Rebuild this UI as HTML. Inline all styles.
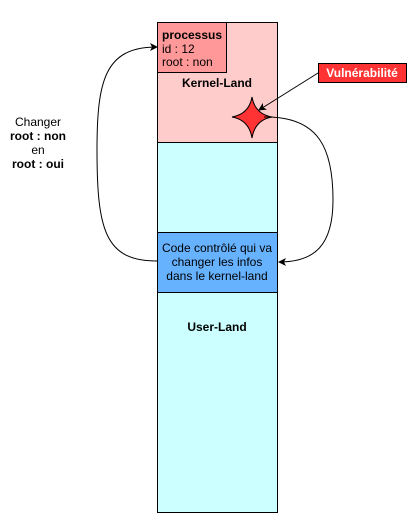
<!DOCTYPE html>
<html><head><meta charset="utf-8"><style>
body{margin:0;background:#fff;}
svg{display:block;font-family:"Liberation Sans",sans-serif;}
</style></head><body>
<svg width="416" height="532" viewBox="0 0 416 532" xmlns="http://www.w3.org/2000/svg">
<defs><marker id="a" markerWidth="8" markerHeight="8" refX="7" refY="4" orient="auto" markerUnits="userSpaceOnUse"><path d="M0,0 L8,4 L0,8 L2,4 Z" fill="#000"/></marker></defs>
<rect x="157.5" y="22.5" width="120" height="120" fill="#ffcccc" stroke="#000"/>
<rect x="157.5" y="142.5" width="120" height="370" fill="#ccffff" stroke="#000"/>
<rect x="157.5" y="22.5" width="69" height="50" fill="#ff9999" stroke="#000"/>
<rect x="157.5" y="232.5" width="120" height="60" fill="#66b2ff" stroke="#000"/>
<text x="162" y="39" font-size="12" font-weight="bold">processus</text>
<text x="162" y="53" font-size="12">id : 12</text>
<text x="162" y="66" font-size="12">root : non</text>
<text x="217" y="87" font-size="12" font-weight="bold" text-anchor="middle">Kernel-Land</text>
<text x="217" y="252" font-size="12" text-anchor="middle">Code contrôlé qui va</text>
<text x="217" y="266" font-size="12" text-anchor="middle">changer les infos</text>
<text x="217" y="280" font-size="12" text-anchor="middle">dans le kernel-land</text>
<text x="217" y="331" font-size="12" font-weight="bold" text-anchor="middle">User-Land</text>
<path d="M252,97 Q255,114 272,117 Q255,120 252,138 Q249,120 232,117 Q249,114 252,97 Z" fill="#ff3333" stroke="#000" stroke-width="1"/>
<rect x="318.5" y="63.5" width="88" height="19" fill="#ff3333" stroke="#000"/>
<text x="362" y="77" font-size="12" font-weight="bold" fill="#fff" text-anchor="middle">Vulnérabilité</text>
<line x1="318" y1="73" x2="259" y2="110" stroke="#000" marker-end="url(#a)"/>
<path d="M157,261 C105,261 97,230 97,150 C97,80 105,47 157,47" fill="none" stroke="#000" marker-end="url(#a)"/>
<path d="M264,117 C320,116 333,150 333,200 C333,245 315,262 279,262" fill="none" stroke="#000" marker-end="url(#a)"/>
<g font-size="12" text-anchor="middle">
<text x="38" y="126">Changer</text>
<text x="38" y="140" font-weight="bold">root : non</text>
<text x="38" y="154">en</text>
<text x="38" y="168" font-weight="bold">root : oui</text>
</g>
</svg>
</body></html>
